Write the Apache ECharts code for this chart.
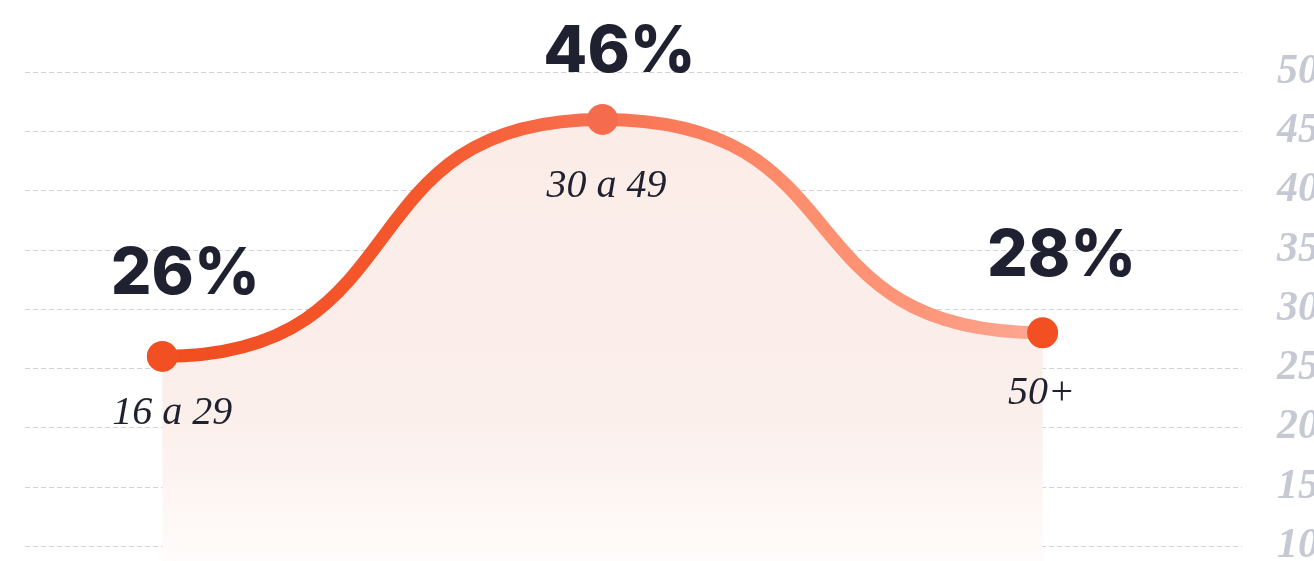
<!DOCTYPE html>
<html>
<head>
<meta charset="utf-8">
<script src="https://cdn.jsdelivr.net/npm/echarts@6/dist/echarts.min.js"></script>
<style>
  html, body { margin: 0; padding: 0; background: #ffffff; }
  #chart { width: 1314px; height: 561px; }
</style>
</head>
<body>
<div id="chart"></div>
<script>
// Age groups and the share of each group (percent)
const ageGroups = ['16 a 29', '30 a 49', '50+'];
const shares = [26, 46, 28];

// Value axis range and tick step
const yMin = 10;
const yMax = 50;
const yStep = 5;

// Horizontal extent of the value x-axis (points sit at 0, 1, 2)
const xMin = -0.312;
const xMax = 2.453;

// Per-point styling: marker fill and label nudges (pixels)
const markerColors = ['#f25022', '#f46c4d', '#f25022'];
const valueLabelNudge = [[23, -82], [17, -67], [19, -76]];
const groupLabelNudge = [[10, 57], [4, 67], [-1, 61]];
const TENSION = 0.6; // horizontal control-point reach of each curve segment

const chart = echarts.init(document.getElementById('chart'), null, { renderer: 'canvas' });

function curvePath(pts) {
  let d = 'M' + pts[0][0] + ',' + pts[0][1];
  for (let k = 1; k < pts.length; k++) {
    const a = pts[k - 1], b = pts[k];
    const dx = b[0] - a[0];
    d += ' C' + (a[0] + dx * TENSION) + ',' + a[1] + ' ' + (b[0] - dx * TENSION) + ',' + b[1] + ' ' + b[0] + ',' + b[1];
  }
  return d;
}

function renderItem(params, api) {
  const i = params.dataIndex;
  const p = api.coord([api.value(0), api.value(1)]);
  const children = [];

  if (i === 0) {
    const pts = shares.map((v, k) => api.coord([k, v]));
    const last = pts[pts.length - 1];
    const bottom = api.getHeight();
    const xs = pts.map(q => q[0]);
    const ys = pts.map(q => q[1]);
    const minX = Math.min.apply(null, xs), maxX = Math.max.apply(null, xs);
    const minY = Math.min.apply(null, ys), maxY = Math.max.apply(null, ys);
    const line = curvePath(pts);
    const area = line + ' L' + last[0] + ',' + bottom + ' L' + pts[0][0] + ',' + bottom + ' Z';

    children.push({
      type: 'path',
      z2: 0,
      shape: { pathData: area, x: minX, y: minY, width: maxX - minX, height: bottom - minY, layout: 'cover' },
      style: {
        fill: new echarts.graphic.LinearGradient(0, minY, 0, bottom, [
          { offset: 0, color: '#fbece7' },
          { offset: 0.68, color: '#fbefeb' },
          { offset: 1, color: '#fffcfb' }
        ], true),
        stroke: null
      }
    });
    children.push({
      type: 'path',
      z2: 10,
      shape: { pathData: line, x: minX, y: minY, width: maxX - minX, height: maxY - minY, layout: 'cover' },
      style: {
        fill: null,
        lineWidth: 13,
        lineCap: 'round',
        stroke: new echarts.graphic.LinearGradient(minX, 0, maxX, 0, [
          { offset: 0, color: '#f04d20' },
          { offset: 0.3, color: '#f5582d' },
          { offset: 0.5, color: '#f87150' },
          { offset: 0.72, color: '#fd8e6e' },
          { offset: 0.86, color: '#fd9679' },
          { offset: 1, color: '#fca894' }
        ], true)
      }
    });
  }

  children.push({
    type: 'circle',
    z2: 20,
    shape: { cx: p[0], cy: p[1], r: 15.5 },
    style: { fill: markerColors[i] }
  });
  children.push({
    type: 'text',
    z2: 30,
    x: p[0] + valueLabelNudge[i][0],
    y: p[1] + valueLabelNudge[i][1],
    style: {
      text: shares[i] + '%',
      font: '800 64px Inter',
      fill: '#1f2130',
      align: 'center',
      verticalAlign: 'middle'
    }
  });
  children.push({
    type: 'text',
    z2: 30,
    x: p[0] + groupLabelNudge[i][0],
    y: p[1] + groupLabelNudge[i][1],
    style: {
      text: ageGroups[i],
      font: 'italic 40px "Liberation Serif"',
      fill: '#1f2130',
      align: 'center',
      verticalAlign: 'middle'
    }
  });

  return { type: 'group', children: children };
}

chart.setOption({
  animation: false,
  backgroundColor: '#ffffff',
  grid: { left: 25, right: 72, top: 72, bottom: 15, containLabel: false, outerBoundsMode: 'none' },
  xAxis: {
    type: 'value',
    min: xMin,
    max: xMax,
    show: false
  },
  yAxis: {
    type: 'value',
    position: 'right',
    min: yMin,
    max: yMax,
    interval: yStep,
    axisLine: { show: false },
    axisTick: { show: false },
    axisLabel: {
      margin: 35,
      color: '#c6c9d3',
      fontFamily: '"Liberation Serif"',
      fontStyle: 'italic',
      fontWeight: 'bold',
      fontSize: 42
    },
    splitLine: {
      show: true,
      lineStyle: { color: '#d2d2d9', width: 1, type: [5, 3] }
    }
  },
  series: [{
    type: 'custom',
    clip: false,
    renderItem: renderItem,
    data: shares.map((v, k) => [k, v])
  }]
});
</script>
</body>
</html>
